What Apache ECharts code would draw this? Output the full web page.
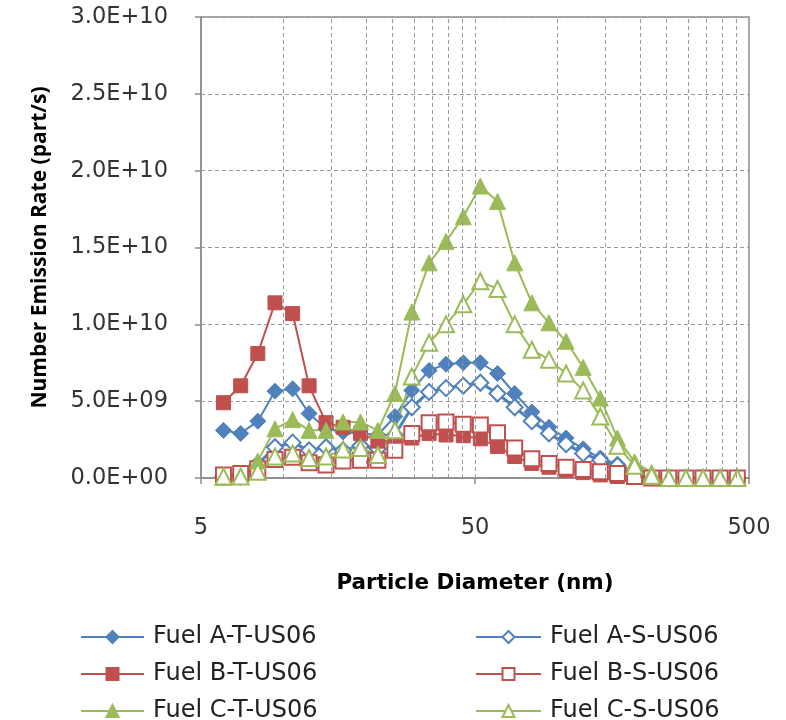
<!DOCTYPE html>
<html>
<head>
<meta charset="utf-8">
<script src="https://cdn.jsdelivr.net/npm/echarts@6/dist/echarts.min.js"></script>
<style>
html,body{margin:0;padding:0;background:#fff;}
#chart{width:786px;height:720px;}
</style>
</head>
<body>
<div id="chart"></div>
<script>
// Particle diameters (nm), EEPS bins
const diameters = [6.04, 6.98, 8.06, 9.31, 10.8, 12.4, 14.3, 16.5, 19.1, 22.1, 25.5, 29.4, 34.0, 39.2, 45.3, 52.3, 60.4, 69.8, 80.6, 93.1, 107.5, 124.1, 143.3, 165.5, 191.1, 220.7, 254.8, 294.3, 339.8, 392.3, 453.2];
// Emission rates in units of 1E+09 part/s
const UNIT = 1e9;
const fuelA_T = [3.1, 2.9, 3.7, 5.65, 5.8, 4.2, 3.2, 3.0, 2.9, 2.8, 4.0, 5.7, 7.0, 7.4, 7.5, 7.5, 6.8, 5.5, 4.3, 3.3, 2.6, 1.9, 1.3, 0.9, 0.45, 0.1, 0, 0, 0, 0, 0];
const fuelA_S = [0.1, 0.1, 0.9, 2.0, 2.3, 1.8, 2.0, 1.8, 2.1, 1.9, 2.8, 4.6, 5.6, 5.85, 6.0, 6.2, 5.5, 4.6, 3.7, 2.9, 2.2, 1.6, 1.15, 0.8, 0.35, 0.05, 0, 0, 0, 0, 0];
const fuelB_T = [4.9, 6.0, 8.1, 11.4, 10.7, 6.0, 3.6, 3.3, 2.9, 2.4, 2.4, 2.6, 2.9, 2.8, 2.75, 2.55, 2.05, 1.4, 0.95, 0.7, 0.5, 0.35, 0.2, 0.1, 0.05, 0, 0, 0, 0, 0, 0];
const fuelB_S = [0.2, 0.3, 0.6, 1.2, 1.35, 1.0, 0.85, 1.1, 1.15, 1.15, 1.8, 2.9, 3.6, 3.65, 3.5, 3.45, 2.95, 1.95, 1.25, 0.95, 0.7, 0.55, 0.4, 0.3, 0.1, 0, 0, 0, 0, 0, 0];
const fuelC_T = [0.05, 0.1, 1.1, 3.2, 3.8, 3.1, 3.1, 3.65, 3.65, 3.1, 5.5, 10.8, 14.0, 15.4, 17.0, 19.0, 18.0, 14.0, 11.4, 10.1, 8.9, 7.2, 5.2, 2.6, 1.05, 0.35, 0, 0, 0, 0, 0];
const fuelC_S = [0.1, 0.1, 0.4, 1.4, 1.6, 1.3, 1.4, 1.85, 1.95, 1.5, 3.1, 6.6, 8.8, 10.0, 11.3, 12.8, 12.3, 10.0, 8.35, 7.7, 6.8, 5.7, 4.0, 2.1, 0.8, 0.15, 0, 0, 0, 0, 0];

const seriesNames = ['Fuel A-T-US06', 'Fuel A-S-US06', 'Fuel B-T-US06', 'Fuel B-S-US06', 'Fuel C-T-US06', 'Fuel C-S-US06'];
const xMajorTicks = [5, 50, 500];
const xMinorGrid = [10, 15, 20, 25, 30, 35, 40, 45, 50, 100, 150, 200, 250, 300, 350, 400, 450];
const yTickLabels = ['0.0E+00', '5.0E+09', '1.0E+10', '1.5E+10', '2.0E+10', '2.5E+10', '3.0E+10'];

const BLUE = '#4F81BD', RED = '#C0504D', GREEN = '#9BBB59';
const HFONT = 'DejaVu Sans';
const VFONT = 'Open Sans';

function pts(arr) { return diameters.map((d, i) => [d, arr[i] * UNIT]); }

function mk(name, arr, color, symbol, size, hollow, lw) {
  return {
    name: name, type: 'line', data: pts(arr),
    symbol: symbol, symbolSize: size, showSymbol: true,
    lineStyle: { color: color, width: lw || 2 },
    itemStyle: hollow ? { color: '#fff', borderColor: color, borderWidth: 2 } : { color: color, borderColor: color, borderWidth: 1 },
    z: 3, animation: false, clip: true
  };
}

const chart = echarts.init(document.getElementById('chart'), null, { renderer: 'canvas' });
const gridDash = { color: '#9a9a9a', width: 1, type: [4, 3] };
const legendText = { fontFamily: HFONT, fontSize: 24, color: '#222', padding: [0, 0, 0, 4] };
const option = {
  backgroundColor: '#fff',
  animation: false,
  grid: { left: 201, right: 37, top: 17, bottom: 242, show: true, borderColor: '#8c8c8c', borderWidth: 1.5, backgroundColor: 'transparent' },
  xAxis: {
    type: 'log', logBase: 10, min: 5, max: 500,
    name: 'Particle Diameter (nm)', nameLocation: 'middle', nameGap: 94,
    nameTextStyle: { fontFamily: HFONT, fontSize: 21.5, fontWeight: 'bold', color: '#000' },
    axisLine: { show: true, lineStyle: { color: '#8c8c8c', width: 1.5 } },
    axisTick: { show: true, length: 6, customValues: xMajorTicks, lineStyle: { color: '#8c8c8c', width: 1.5 } },
    axisLabel: { customValues: xMajorTicks, margin: 39, fontFamily: HFONT, fontSize: 22.5, color: '#333', formatter: v => String(Math.round(v)) },
    splitLine: { show: false }, minorTick: { show: false }
  },
  yAxis: {
    type: 'value', min: 0, max: 3e10, interval: 5e9,
    name: 'Number Emission Rate (part/s)', nameLocation: 'middle', nameGap: 150, nameRotate: 90,
    nameTextStyle: { fontFamily: VFONT, fontSize: 21, fontWeight: 'bold', color: '#000' },
    axisLine: { show: true, lineStyle: { color: '#8c8c8c', width: 1.5 } },
    axisTick: { show: true, length: 6, lineStyle: { color: '#8c8c8c', width: 1.5 } },
    axisLabel: { margin: 33, fontFamily: HFONT, fontSize: 22.5, color: '#333',
      formatter: v => yTickLabels[Math.round(v / 5e9)] },
    splitLine: { show: true, lineStyle: gridDash }
  },
  legend: [
    { orient: 'vertical', left: 75, top: 620, height: 160, width: 320, itemWidth: 63, itemHeight: 15, itemGap: 13,
      data: [seriesNames[0], seriesNames[2], seriesNames[4]], textStyle: legendText },
    { orient: 'vertical', left: 470, top: 620, height: 160, width: 310, itemWidth: 65, itemHeight: 15, itemGap: 13,
      data: [seriesNames[1], seriesNames[3], seriesNames[5]], textStyle: legendText }
  ],
  series: [
    { name: 'grid', type: 'line', data: [], z: 1, silent: true, animation: false,
      markLine: { silent: true, symbol: 'none', label: { show: false }, animation: false,
        lineStyle: gridDash, emphasis: { disabled: true },
        data: xMinorGrid.map(v => ({ xAxis: v })) } },
    mk(seriesNames[0], fuelA_T, BLUE, 'diamond', 16, false, 2),
    mk(seriesNames[1], fuelA_S, BLUE, 'diamond', 16, true, 3),
    mk(seriesNames[2], fuelB_T, RED, 'rect', 14, false, 2),
    mk(seriesNames[3], fuelB_S, RED, 'rect', 15, true, 2),
    mk(seriesNames[4], fuelC_T, GREEN, 'triangle', 16, false, 2),
    mk(seriesNames[5], fuelC_S, GREEN, 'triangle', 16, true, 2)
  ]
};
chart.setOption(option);
</script>
</body>
</html>
